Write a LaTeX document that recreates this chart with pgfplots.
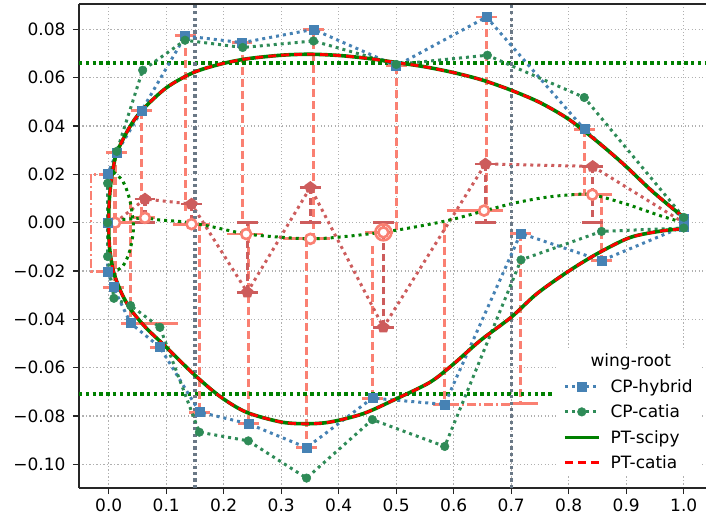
\documentclass[border=0pt]{standalone}
\usepackage{fontspec}
\setmainfont{DejaVu Sans}
\usepackage{pgfplots}
\pgfplotsset{compat=1.18}
\usetikzlibrary{plotmarks}
\definecolor{steelblue}{HTML}{4682B4}
\definecolor{seagreen}{HTML}{2E8B57}
\definecolor{mgreen}{HTML}{008000}
\definecolor{salmon}{HTML}{FA8072}
\definecolor{indianred}{HTML}{CD5C5C}
\definecolor{slategray}{HTML}{6A7886}
\definecolor{gridgray}{HTML}{B0B0B0}
\newcommand{\fs}{\fontsize{17}{20}\selectfont}
\begin{document}
\begin{tikzpicture}
\begin{axis}[
  scale only axis, width=627pt, height=484pt,
  xmin=-0.0517, xmax=1.0387, ymin=-0.1098, ymax=0.0905,
  separate axis lines,
  axis x line*=box, axis y line*=left,
  axis line style={line width=1.4pt, black!85},
  tick align=outside, tick pos=left,
  major tick length=6pt,
  every tick/.style={line width=1.3pt, black!85},
  xtick={0,0.1,0.2,0.3,0.4,0.5,0.6,0.7,0.8,0.9,1.0},
  xticklabels={0.0,0.1,0.2,0.3,0.4,0.5,0.6,0.7,0.8,0.9,1.0},
  ytick={-0.10,-0.08,-0.06,-0.04,-0.02,0,0.02,0.04,0.06,0.08},
  yticklabels={−0.10,−0.08,−0.06,−0.04,−0.02,0.00,0.02,0.04,0.06,0.08},
  tick label style={font=\fs},
  yticklabel style={xshift=-4pt},
  xticklabel style={yshift=-1pt},
  grid=major,
  grid style={gridgray, line width=1.1pt, dash pattern=on 1.3pt off 2.2pt},
  unbounded coords=jump,
  legend style={at={(axis description cs:0.762,0.29)}, anchor=north west,
    draw=none, fill=white, font=\fs,
    row sep=7pt, inner xsep=6pt, inner ysep=4pt,
    /tikz/every odd column/.append style={column sep=8pt}},
  legend cell align=left,
  legend image code/.code={\draw[mark repeat=2,mark phase=2] plot coordinates {(0pt,0pt)(17pt,0pt)(34pt,0pt)};},
]
\addlegendimage{empty legend}
\addlegendentry{\hspace*{-20pt}wing-root}

% salmon dashed vertical bars (CP to camber)
\addplot[salmon, line width=3.2pt, dash pattern=on 8pt off 4pt, forget plot] coordinates {
(0.011,0.029)(0.011,-0.0267)(nan,nan)
(0.057,0.0463)(0.057,0.002)(nan,nan)
(0.133,0.0773)(0.133,0.005)(nan,nan)
(0.232,0.0745)(0.232,0.0)(nan,nan)
(0.356,0.0800)(0.356,-0.006)(nan,nan)
(0.500,0.0649)(0.500,-0.003)(nan,nan)
(0.657,0.0851)(0.657,0.005)(nan,nan)
(0.827,0.0387)(0.827,0.0116)(nan,nan)
(0.038,0.009)(0.038,-0.0416)(nan,nan)
(0.158,0.0)(0.158,-0.0784)(nan,nan)
(0.243,0.0)(0.243,-0.0832)(nan,nan)
(0.344,-0.0067)(0.344,-0.0931)(nan,nan)
(0.4585,-0.0095)(0.4585,-0.0726)(nan,nan)
(0.584,0.0)(0.584,-0.0752)(nan,nan)
(0.7165,-0.0044)(0.7165,-0.0748)(nan,nan)
(0.857,0.0116)(0.857,-0.0157)
};
% salmon dash-dot
\addplot[salmon, line width=2.8pt, dash pattern=on 9pt off 3pt on 2pt off 3pt, forget plot] coordinates {
(-0.002,0.0201)(-0.031,0.0201)(-0.031,-0.0203)(-0.002,-0.0203)(nan,nan)
(0.564,-0.0752)(0.700,-0.0752)
};
% salmon caps and bars
\addplot[salmon, line width=2.8pt, forget plot] coordinates {
(-0.004,0.029)(0.032,0.029)(nan,nan)
(0.039,0.0463)(0.075,0.0463)(nan,nan)
(0.115,0.0773)(0.151,0.0773)(nan,nan)
(0.214,0.0745)(0.250,0.0745)(nan,nan)
(0.338,0.0800)(0.374,0.0800)(nan,nan)
(0.482,0.0649)(0.518,0.0649)(nan,nan)
(0.639,0.0851)(0.675,0.0851)(nan,nan)
(0.809,0.0387)(0.845,0.0387)(nan,nan)
(-0.010,-0.0267)(0.026,-0.0267)(nan,nan)
(0.022,-0.0416)(0.121,-0.0416)(nan,nan)
(0.071,-0.0515)(0.107,-0.0515)(nan,nan)
(0.140,-0.0784)(0.176,-0.0784)(nan,nan)
(0.225,-0.0832)(0.261,-0.0832)(nan,nan)
(0.326,-0.0931)(0.362,-0.0931)(nan,nan)
(0.4405,-0.0726)(0.4765,-0.0726)(nan,nan)
(0.566,-0.0752)(0.602,-0.0752)(nan,nan)
(0.6985,-0.0044)(0.7345,-0.0044)(nan,nan)
(0.6985,-0.0748)(0.7470,-0.0748)(nan,nan)
(0.839,-0.0157)(0.875,-0.0157)(nan,nan)
(0.000,0.000)(0.046,0.000)(nan,nan)
(0.043,0.002)(0.081,0.002)(nan,nan)
(0.112,-0.0006)(0.176,-0.0006)(nan,nan)
(0.205,-0.0047)(0.269,-0.0047)(nan,nan)
(0.303,-0.0067)(0.385,-0.0067)(nan,nan)
(0.446,-0.004)(0.495,-0.004)(nan,nan)
(0.588,0.005)(0.686,0.005)(nan,nan)
(0.808,0.0116)(0.875,0.0116)
};
% indianred dashed verticals
\addplot[indianred, line width=3.2pt, dash pattern=on 7pt off 4pt, forget plot] coordinates {
(0.063,0.0098)(0.063,0)(nan,nan)
(0.144,0.0077)(0.144,0)(nan,nan)
(0.241,-0.0288)(0.241,0)(nan,nan)
(0.3506,0.0146)(0.3506,0)(nan,nan)
(0.4776,-0.0433)(0.4776,0)(nan,nan)
(0.655,0.0243)(0.655,0)(nan,nan)
(0.8417,0.0233)(0.8417,0)
};
% indianred caps
\addplot[indianred, line width=2.8pt, forget plot] coordinates {
(0.045,0.0098)(0.081,0.0098)(nan,nan)(0.045,0)(0.081,0)(nan,nan)
(0.126,0.0077)(0.162,0.0077)(nan,nan)
(0.223,-0.0288)(0.259,-0.0288)(nan,nan)(0.223,0)(0.259,0)(nan,nan)
(0.3326,0.0146)(0.3686,0.0146)(nan,nan)(0.3326,0)(0.3686,0)(nan,nan)
(0.4596,-0.0433)(0.4956,-0.0433)(nan,nan)(0.4596,0)(0.4956,0)(nan,nan)
(0.637,0.0243)(0.673,0.0243)(nan,nan)(0.637,0)(0.673,0)(nan,nan)
(0.8237,0.0233)(0.8597,0.0233)(nan,nan)(0.8237,0)(0.8597,0)
};
% indianred dotted line with markers
\addplot[indianred, line width=3pt, dash pattern=on 3pt off 4pt, mark=pentagon*, mark size=4.5pt, mark options={solid, fill=indianred}, mark indices={2,3,4,5,6,7,8}, forget plot] coordinates {
(0.011,0.0)(0.063,0.0098)(0.144,0.0077)(0.241,-0.0288)(0.3506,0.0146)(0.4776,-0.0433)(0.655,0.0243)(0.8417,0.0233)(1.0,0.0)
};
% camber line
\addplot[mgreen, line width=3pt, dash pattern=on 3pt off 4pt, smooth, forget plot] coordinates {
(0.0,0.0)(0.02,0.0012)(0.063,0.0019)(0.089,0.0011)(0.124,0.0005)(0.147,-0.0003)(0.176,-0.0015)(0.24,-0.0047)(0.315,-0.0063)(0.35,-0.0067)(0.385,-0.0063)(0.44,-0.0050)(0.495,-0.0033)(0.55,-0.0010)(0.60,0.0015)(0.698,0.0077)(0.76,0.0105)(0.808,0.0116)(0.841,0.0116)(0.90,0.0077)(0.959,0.0029)(1.0,0.0)
};
% leading edge loop
\addplot[mgreen, line width=3pt, dash pattern=on 3pt off 4pt, smooth, forget plot] coordinates {
(0.008,0.021)(0.025,0.017)(0.037,0.009)(0.043,-0.002)(0.037,-0.0113)(0.025,-0.0178)(0.005,-0.021)
};
% hollow circles
\addplot[only marks, mark=*, mark size=5pt, mark options={draw=salmon, fill=white, line width=2.6pt}, forget plot] coordinates {
(0.011,0.000)(0.063,0.002)(0.144,-0.0006)(0.239,-0.0047)(0.3506,-0.0067)(0.4776,-0.004)(0.6527,0.005)(0.841,0.0116)
};
\addplot[only marks, mark=o, mark size=8pt, mark options={draw=salmon, line width=2.6pt}, forget plot] coordinates {(0.4776,-0.004)};
% reference lines
\addplot[mgreen, line width=3.4pt, dash pattern=on 3.4pt off 3.4pt, forget plot] coordinates {(-0.0517,0.0661)(1.0387,0.0661)};
\addplot[mgreen, line width=3.4pt, dash pattern=on 3.4pt off 3.4pt, forget plot] coordinates {(-0.0517,-0.0709)(0.775,-0.0709)};
\addplot[slategray, line width=3.2pt, dash pattern=on 3.2pt off 3.2pt, forget plot] coordinates {(0.15,-0.1098)(0.15,0.0905)};
\addplot[slategray, line width=3.2pt, dash pattern=on 3.2pt off 3.2pt, forget plot] coordinates {(0.70,-0.1098)(0.70,0.0905)};
% CP-hybrid
\addplot[steelblue, line width=3pt, dash pattern=on 3pt off 4pt, mark=square*, mark size=4.5pt, mark options={solid, fill=steelblue, draw=steelblue, line width=0.5pt}] coordinates {
(1.0,0.0015)(0.827,0.0387)(0.657,0.0851)(0.500,0.0649)(0.356,0.0800)(0.232,0.0745)(0.133,0.0773)(0.057,0.0463)(0.014,0.0290)(-0.002,0.0201)(-0.002,0.0)(-0.002,-0.0203)(0.008,-0.0267)(0.038,-0.0416)(0.089,-0.0515)(0.158,-0.0784)(0.243,-0.0832)(0.344,-0.0931)(0.4585,-0.0726)(0.584,-0.0752)(0.7165,-0.0044)(0.857,-0.0157)(1.0,-0.0015)
};
\addlegendentry{CP-hybrid}
% CP-catia
\addplot[seagreen, line width=3pt, dash pattern=on 3pt off 4pt, mark=*, mark size=4.3pt, mark options={solid, fill=seagreen, draw=seagreen, line width=0.5pt}] coordinates {
(1.0,0.0022)(0.827,0.0518)(0.6585,0.0693)(0.500,0.0655)(0.356,0.0752)(0.233,0.0725)(0.1327,0.0755)(0.059,0.0631)(0.014,0.0295)(-0.002,0.0163)(-0.002,0.0)(-0.002,-0.014)(0.009,-0.0313)(0.038,-0.0343)(0.089,-0.0433)(0.1576,-0.0867)(0.2428,-0.0903)(0.344,-0.1057)(0.4585,-0.0815)(0.5843,-0.0926)(0.717,-0.0154)(0.857,-0.0036)(1.0,-0.0022)
};
\addlegendentry{CP-catia}
% PT-scipy
\addplot[mgreen, line width=3.6pt, smooth, tension=0.5] coordinates {
(1.000,0.0022)(0.970,0.0080)(0.941,0.0139)(0.895,0.0243)(0.850,0.0335)(0.800,0.0428)(0.750,0.0497)(0.700,0.0548)(0.650,0.0590)(0.600,0.0621)(0.550,0.0645)(0.500,0.0663)(0.450,0.0680)(0.400,0.0692)(0.350,0.0697)(0.300,0.0693)(0.240,0.0678)(0.194,0.0656)(0.147,0.0621)(0.100,0.0558)(0.057,0.0463)(0.035,0.0390)(0.014,0.0290)(0.008,0.0228)(0.004,0.0170)(0.0015,0.0110)(0.0003,0.0055)(0.000,0.0000)
(0.0003,-0.0055)(0.0015,-0.0105)(0.004,-0.0150)(0.008,-0.0200)(0.015,-0.0250)(0.025,-0.0305)(0.040,-0.0365)(0.066,-0.0438)(0.100,-0.0515)(0.147,-0.0625)(0.194,-0.0720)(0.240,-0.0785)(0.300,-0.0825)(0.344,-0.0832)(0.385,-0.0825)(0.443,-0.0790)(0.500,-0.0729)(0.559,-0.0660)(0.600,-0.0584)(0.646,-0.0488)(0.700,-0.0391)(0.744,-0.0295)(0.797,-0.0205)(0.849,-0.0129)(0.907,-0.0061)(0.965,-0.0033)(1.000,-0.0026)
};
\addlegendentry{PT-scipy}
% PT-catia
\addplot[red, line width=2.8pt, dash pattern=on 8pt off 5pt, smooth, tension=0.5] coordinates {
(1.000,0.0022)(0.970,0.0080)(0.941,0.0139)(0.895,0.0243)(0.850,0.0335)(0.800,0.0428)(0.750,0.0497)(0.700,0.0548)(0.650,0.0590)(0.600,0.0621)(0.550,0.0645)(0.500,0.0663)(0.450,0.0680)(0.400,0.0692)(0.350,0.0697)(0.300,0.0693)(0.240,0.0678)(0.194,0.0656)(0.147,0.0621)(0.100,0.0558)(0.057,0.0463)(0.035,0.0390)(0.014,0.0290)(0.008,0.0228)(0.004,0.0170)(0.0015,0.0110)(0.0003,0.0055)(0.000,0.0000)
(0.0003,-0.0055)(0.0015,-0.0105)(0.004,-0.0150)(0.008,-0.0200)(0.015,-0.0250)(0.025,-0.0305)(0.040,-0.0365)(0.066,-0.0438)(0.100,-0.0515)(0.147,-0.0625)(0.194,-0.0720)(0.240,-0.0785)(0.300,-0.0825)(0.344,-0.0832)(0.385,-0.0825)(0.443,-0.0790)(0.500,-0.0729)(0.559,-0.0660)(0.600,-0.0584)(0.646,-0.0488)(0.700,-0.0391)(0.744,-0.0295)(0.797,-0.0205)(0.849,-0.0129)(0.907,-0.0061)(0.965,-0.0033)(1.000,-0.0026)
};
\addlegendentry{PT-catia}
\end{axis}
\pgfresetboundingbox
\path ([xshift=-79pt,yshift=-37pt]current axis.south west) rectangle ([yshift=4pt]current axis.north east);
\end{tikzpicture}
\end{document}
